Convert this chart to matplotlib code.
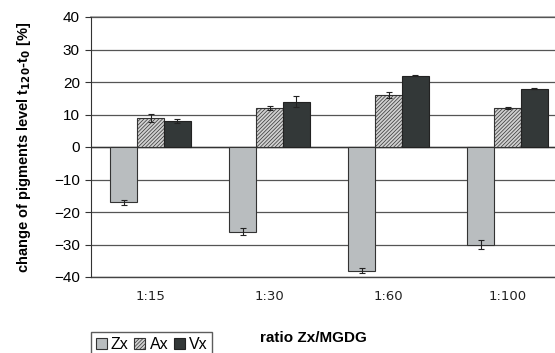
import numpy as np
import matplotlib.pyplot as plt
import matplotlib as mpl

ratios = ["1:15", "1:30", "1:60", "1:100"]
zx = [-17, -26, -38, -30]
ax_vals = [9, 12, 16, 12]
vx = [8, 14, 22, 18]
zx_err = [0.7, 1.0, 0.8, 1.5]
ax_err = [1.2, 0.7, 0.8, 0.4]
vx_err = [0.5, 1.7, 0.2, 0.2]

plt.rcParams['font.family'] = ['Liberation Sans', 'DejaVu Sans']
mpl.rcParams['hatch.color'] = '#444444'
mpl.rcParams['hatch.linewidth'] = 0.5

fig = plt.figure(figsize=(5.55, 3.53), dpi=100)
# the original is cropped on the right, so the axes extends past the figure
ax = fig.add_axes([91 / 555, 1 - 277 / 353, 476 / 555, 260 / 353])

x = np.arange(len(ratios))
w = 0.225
ekw = dict(ecolor='#222222', elinewidth=0.8, capsize=2.5, capthick=0.8)
ax.bar(x - w, zx, w, yerr=zx_err, color='#b9bdbf', edgecolor='#333333',
       linewidth=0.8, error_kw=ekw, label='Zx', zorder=3)
ax.bar(x, ax_vals, w, yerr=ax_err, color='#d0d0d0', edgecolor='#333333',
       hatch='/////////', linewidth=0.8, error_kw=ekw, label='Ax', zorder=3)
ax.bar(x + w, vx, w, yerr=vx_err, color='#333838', edgecolor='#222222',
       linewidth=0.8, error_kw=ekw, label='Vx', zorder=3)

ax.set_xlim(-0.5, len(ratios) - 0.5)
ax.set_ylim(-40, 40)
ax.set_yticks(range(-40, 41, 10))
ax.yaxis.grid(True, color='#555555', linewidth=0.9, zorder=0)
ax.axhline(40, color='#999999', linewidth=1.2, zorder=1, clip_on=False)
ax.axhline(0, color='#333333', linewidth=1.0, zorder=2)
ax.axhline(-40, color='#444444', linewidth=1.0, zorder=2, clip_on=False)

for s in ['top', 'right', 'bottom']:
    ax.spines[s].set_visible(False)
ax.spines['left'].set_color('#333333')
ax.tick_params(axis='x', length=0, pad=9)
ax.tick_params(axis='y', length=4, color='#333333', labelsize=11, pad=4)
ax.set_xticks(x)
ax.set_xticklabels(ratios, family='DejaVu Sans', fontsize=9.5, color='#222222')

ax.set_ylabel('change of pigments level t$_{\\mathbf{120}}$-t$_\\mathbf{0}$ [%]',
              fontweight='bold', fontsize=10.5, labelpad=15)
fig.text(313 / 555, 1 - 338 / 353, 'ratio Zx/MGDG', fontweight='bold',
         fontsize=11, ha='center', va='center')

fig.legend(loc='lower left', bbox_to_anchor=(91 / 555, -4 / 353), ncol=3,
           frameon=True, fancybox=False, edgecolor='#333333', fontsize=11.5,
           handlelength=0.7, handleheight=0.7, handletextpad=0.25,
           columnspacing=0.35, borderpad=0.3, borderaxespad=0)

fig.savefig('out.png', dpi=100)
